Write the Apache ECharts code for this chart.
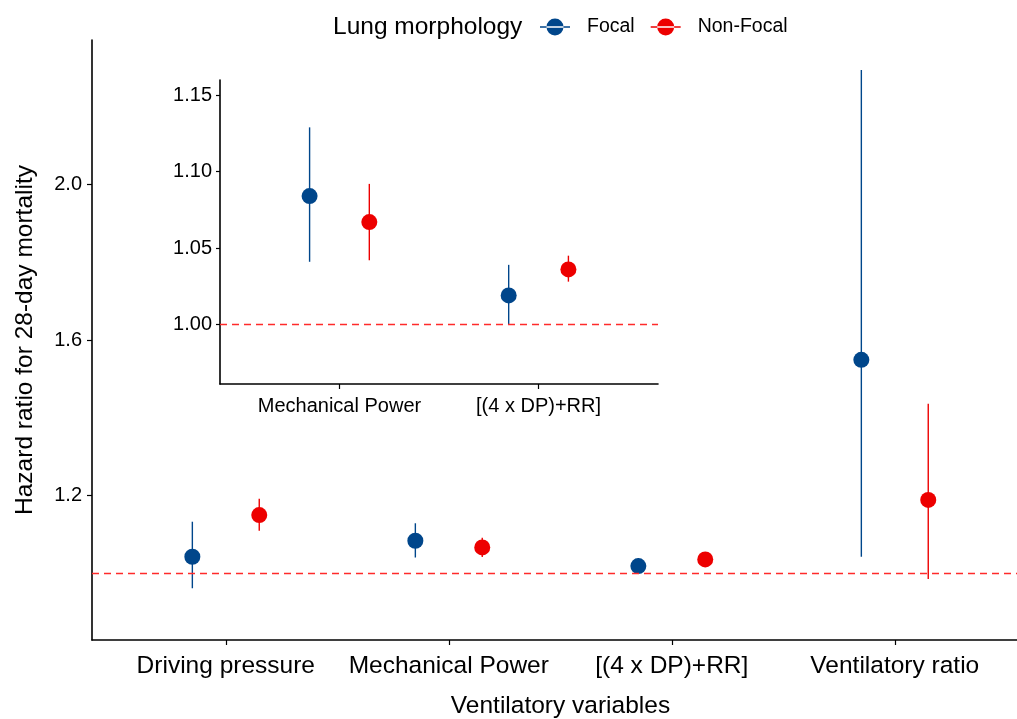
<!DOCTYPE html>
<html>
<head>
<meta charset="utf-8">
<script src="https://cdn.jsdelivr.net/npm/echarts@6/dist/echarts.min.js"></script>
<style>
  html, body { margin: 0; padding: 0; background: #fff; }
  #chart-container { width: 1017px; height: 719px; }
</style>
</head>
<body>
<div id="chart-container"></div>
<script>
// Hazard ratios
const categories = ["Driving pressure", "Mechanical Power", "[(4 x DP)+RR]", "Ventilatory ratio"];
const insetCategories = ["Mechanical Power", "[(4 x DP)+RR]"];

const focalHR = [1.043, 1.084, 1.019, 1.549];
const focalLow = [0.962, 1.041, 1.000, 1.043];
const focalHigh = [1.133, 1.129, 1.039, 2.294];

const nonFocalHR = [1.150, 1.067, 1.036, 1.189];
const nonFocalLow = [1.110, 1.042, 1.028, 0.986];
const nonFocalHigh = [1.192, 1.092, 1.045, 1.436];

const mainYTicks = [1.2, 1.6, 2.0];
const insetYTicks = [1.0, 1.05, 1.1, 1.15];

// inset shows categories 2 and 3 of the main chart
const insetIdx = [1, 2];

const FOCAL = "#00468B";
const NONFOCAL = "#ED0000";
const FONT = "Liberation Sans";
const dodge = 0.15;

const chart = echarts.init(document.getElementById("chart-container"));

// point + range rows: [x, y] and [x, low, high]
const points = (hr, idxs, off) => idxs.map((i, k) => [k + 1 + off, hr[i]]);
const ranges = (lo, hi, idxs, off) => idxs.map((i, k) => [k + 1 + off, lo[i], hi[i]]);
const allIdx = categories.map((_, i) => i);

const errorBar = (params, api) => {
  const x = api.value(0);
  const p1 = api.coord([x, api.value(1)]);
  const p2 = api.coord([x, api.value(2)]);
  return {
    type: "line",
    shape: { x1: p1[0], y1: p1[1], x2: p2[0], y2: p2[1] },
    style: { stroke: api.visual("color"), lineWidth: 1.4 },
  };
};

const refLine = {
  silent: true,
  symbol: "none",
  label: { show: false },
  lineStyle: { color: "#ff2b2b", type: [7, 5], width: 1.3 },
  data: [{ yAxis: 1 }],
};

const legendIcon = "path://M0,9.3H30V10.7H0Z M6.5,10A8.5,8.5 0 1,0 23.5,10A8.5,8.5 0 1,0 6.5,10Z";

const axisCommon = {
  type: "value",
  splitLine: { show: false },
  axisLine: { show: true, lineStyle: { color: "#000", width: 1.6 } },
  axisTick: { show: true, length: 5, lineStyle: { color: "#000", width: 1.2 } },
};

const option = {
  animation: false,
  textStyle: { fontFamily: FONT },
  title: {
    text: "Lung morphology",
    left: 333,
    top: 13,
    padding: 0,
    textStyle: { fontFamily: FONT, fontSize: 24.5, fontWeight: "normal", color: "#000", lineHeight: 28 },
  },
  legend: {
    data: ["Focal", "Non-Focal"],
    left: 540,
    top: 17,
    padding: 0,
    itemWidth: 30,
    itemHeight: 20,
    itemGap: 16,
    icon: legendIcon,
    textStyle: { fontFamily: FONT, fontSize: 19.5, color: "#000", padding: [0, 0, 0, 12] },
  },
  grid: [
    { left: 92, top: 40, right: 0, bottom: 79, outerBoundsMode: "none", containLabel: false },
    { left: 220, top: 80, width: 438, height: 304, outerBoundsMode: "none", containLabel: false },
  ],
  xAxis: [
    {
      ...axisCommon,
      gridIndex: 0,
      min: 0.4,
      max: 4.548,
      axisTick: { ...axisCommon.axisTick, customValues: [1, 2, 3, 4] },
      axisLabel: {
        customValues: [1, 2, 3, 4],
        formatter: (v) => categories[Math.round(v) - 1],
        fontSize: 24.5,
        color: "#000",
        margin: 14,
      },
      name: "Ventilatory variables",
      nameLocation: "middle",
      nameGap: 54,
      nameTextStyle: { fontSize: 24.5, color: "#000", padding: [0, 0, 0, 12] },
    },
    {
      ...axisCommon,
      gridIndex: 1,
      min: 0.4,
      max: 2.6,
      axisTick: { ...axisCommon.axisTick, customValues: [1, 2] },
      axisLabel: {
        customValues: [1, 2],
        formatter: (v) => insetCategories[Math.round(v) - 1],
        fontSize: 20,
        color: "#000",
        margin: 12,
      },
    },
  ],
  yAxis: [
    {
      ...axisCommon,
      gridIndex: 0,
      min: 0.829,
      max: 2.371,
      axisTick: { ...axisCommon.axisTick, customValues: mainYTicks },
      axisLabel: {
        customValues: mainYTicks,
        formatter: (v) => v.toFixed(1),
        fontSize: 20,
        color: "#000",
        margin: 10,
      },
      name: "Hazard ratio for 28-day mortality",
      nameLocation: "middle",
      nameGap: 54,
      nameTextStyle: { fontSize: 24.5, color: "#000" },
    },
    {
      ...axisCommon,
      gridIndex: 1,
      min: 0.961,
      max: 1.16,
      axisTick: { ...axisCommon.axisTick, length: 4, customValues: insetYTicks },
      axisLabel: {
        customValues: insetYTicks,
        formatter: (v) => v.toFixed(2),
        fontSize: 20,
        color: "#000",
        margin: 8,
      },
    },
  ],
  series: [
    // main panel
    {
      name: "Focal", type: "custom", xAxisIndex: 0, yAxisIndex: 0,
      renderItem: errorBar, encode: { x: 0, y: [1, 2] },
      itemStyle: { color: FOCAL },
      data: ranges(focalLow, focalHigh, allIdx, -dodge),
      markLine: refLine,
    },
    {
      name: "Non-Focal", type: "custom", xAxisIndex: 0, yAxisIndex: 0,
      renderItem: errorBar, encode: { x: 0, y: [1, 2] },
      itemStyle: { color: NONFOCAL },
      data: ranges(nonFocalLow, nonFocalHigh, allIdx, dodge),
    },
    {
      name: "Focal", type: "scatter", xAxisIndex: 0, yAxisIndex: 0,
      symbolSize: 16, itemStyle: { color: FOCAL, opacity: 1 },
      data: points(focalHR, allIdx, -dodge),
    },
    {
      name: "Non-Focal", type: "scatter", xAxisIndex: 0, yAxisIndex: 0,
      symbolSize: 16, itemStyle: { color: NONFOCAL, opacity: 1 },
      data: points(nonFocalHR, allIdx, dodge),
    },
    // inset panel
    {
      name: "Focal", type: "custom", xAxisIndex: 1, yAxisIndex: 1,
      renderItem: errorBar, encode: { x: 0, y: [1, 2] },
      itemStyle: { color: FOCAL },
      data: ranges(focalLow, focalHigh, insetIdx, -dodge),
      markLine: refLine,
    },
    {
      name: "Non-Focal", type: "custom", xAxisIndex: 1, yAxisIndex: 1,
      renderItem: errorBar, encode: { x: 0, y: [1, 2] },
      itemStyle: { color: NONFOCAL },
      data: ranges(nonFocalLow, nonFocalHigh, insetIdx, dodge),
    },
    {
      name: "Focal", type: "scatter", xAxisIndex: 1, yAxisIndex: 1,
      symbolSize: 16, itemStyle: { color: FOCAL, opacity: 1 },
      data: points(focalHR, insetIdx, -dodge),
    },
    {
      name: "Non-Focal", type: "scatter", xAxisIndex: 1, yAxisIndex: 1,
      symbolSize: 16, itemStyle: { color: NONFOCAL, opacity: 1 },
      data: points(nonFocalHR, insetIdx, dodge),
    },
  ],
};

chart.setOption(option);
</script>
</body>
</html>
